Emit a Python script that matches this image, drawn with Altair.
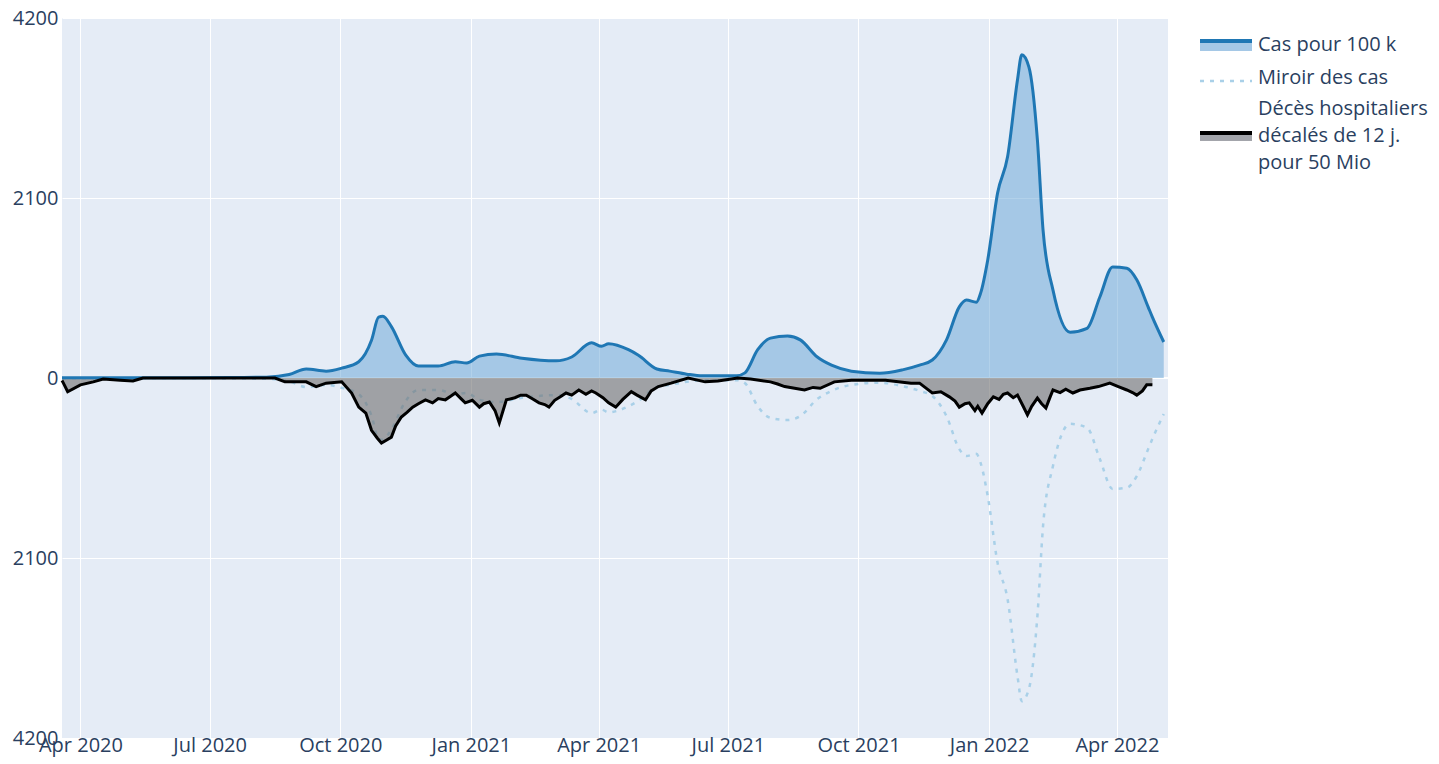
import altair as alt
import pandas as pd

# ---------------- data ----------------
case_dates = [
    "2020-03-19", "2020-05-01", "2020-07-15", "2020-08-10", "2020-08-26", "2020-09-07",
    "2020-09-21", "2020-10-02", "2020-10-14", "2020-10-23", "2020-10-28", "2020-10-31",
    "2020-11-06", "2020-11-16", "2020-11-25", "2020-12-09", "2020-12-21", "2020-12-29",
    "2021-01-07", "2021-01-19", "2021-02-06", "2021-03-02", "2021-03-13", "2021-03-27",
    "2021-04-03", "2021-04-08", "2021-04-22", "2021-04-29", "2021-05-12", "2021-05-21",
    "2021-06-02", "2021-06-13", "2021-07-07", "2021-07-13", "2021-07-22", "2021-07-31",
    "2021-08-12", "2021-08-21", "2021-09-02", "2021-09-12", "2021-09-26", "2021-10-16",
    "2021-11-01", "2021-11-13", "2021-11-22", "2021-12-02", "2021-12-11", "2021-12-16",
    "2021-12-23", "2021-12-26", "2021-12-31", "2022-01-07", "2022-01-14", "2022-01-21",
    "2022-01-24", "2022-01-29", "2022-02-04", "2022-02-08", "2022-02-15", "2022-02-27",
    "2022-03-11", "2022-03-20", "2022-03-29", "2022-04-08", "2022-04-15", "2022-04-23",
    "2022-04-26", "2022-05-04",
]
case_values = [
    2, 2, 5, 10, 40, 105,
    80, 115, 190, 440, 710, 720,
    600, 270, 140, 140, 190, 175,
    255, 280, 230, 200, 245, 410,
    370, 400, 330, 265, 105, 80,
    45, 25, 25, 60, 330, 465,
    490, 445, 245, 150, 80, 55,
    95, 150, 210, 445, 830, 910,
    885, 990, 1375, 2160, 2580, 3480,
    3770, 3630, 2780, 1725, 1025, 535,
    580, 945, 1295, 1280, 1145, 830,
    710, 420,
]

death_dates = [
    "2020-03-19", "2020-03-20", "2020-03-23", "2020-04-01", "2020-04-10", "2020-04-17",
    "2020-04-29", "2020-05-08", "2020-05-15", "2020-08-16", "2020-08-23", "2020-09-07",
    "2020-09-14", "2020-09-21", "2020-10-02", "2020-10-09", "2020-10-14", "2020-10-19",
    "2020-10-23", "2020-10-27", "2020-10-30", "2020-11-03", "2020-11-06", "2020-11-09",
    "2020-11-13", "2020-11-17", "2020-11-21", "2020-11-25", "2020-11-30", "2020-12-05",
    "2020-12-09", "2020-12-14", "2020-12-18", "2020-12-21", "2020-12-25", "2020-12-28",
    "2021-01-02", "2021-01-07", "2021-01-10", "2021-01-14", "2021-01-18", "2021-01-21",
    "2021-01-26", "2021-02-01", "2021-02-05", "2021-02-09", "2021-02-13", "2021-02-18",
    "2021-02-22", "2021-02-25", "2021-03-01", "2021-03-05", "2021-03-09", "2021-03-13",
    "2021-03-18", "2021-03-23", "2021-03-27", "2021-03-30", "2021-04-04", "2021-04-08",
    "2021-04-13", "2021-04-18", "2021-04-24", "2021-04-28", "2021-05-04", "2021-05-08",
    "2021-05-13", "2021-05-22", "2021-06-03", "2021-06-15", "2021-06-24", "2021-07-08",
    "2021-07-17", "2021-07-31", "2021-08-05", "2021-08-10", "2021-08-17", "2021-08-24",
    "2021-08-30", "2021-09-04", "2021-09-14", "2021-09-26", "2021-10-20", "2021-11-07",
    "2021-11-13", "2021-11-22", "2021-11-28", "2021-12-04", "2021-12-08", "2021-12-11",
    "2021-12-15", "2021-12-18", "2021-12-22", "2021-12-24", "2021-12-27", "2021-12-31",
    "2022-01-04", "2022-01-08", "2022-01-11", "2022-01-14", "2022-01-18", "2022-01-21",
    "2022-01-25", "2022-01-28", "2022-01-31", "2022-02-04", "2022-02-07", "2022-02-10",
    "2022-02-13", "2022-02-15", "2022-02-20", "2022-02-24", "2022-03-01", "2022-03-06",
    "2022-03-13", "2022-03-19", "2022-03-27", "2022-04-02", "2022-04-08", "2022-04-12",
    "2022-04-15", "2022-04-19", "2022-04-22", "2022-04-26",
]
death_values = [
    -30, -60, -160, -80, -45, -12,
    -25, -35, 0, 0, -45, -45,
    -100, -60, -45, -175, -340, -410,
    -610, -700, -760, -720, -690, -560,
    -455, -400, -340, -300, -255, -290,
    -240, -255, -210, -175, -240, -290,
    -260, -340, -300, -280, -380, -525,
    -255, -230, -200, -200, -240, -290,
    -310, -340, -260, -220, -175, -200,
    -140, -190, -150, -175, -230, -290,
    -340, -250, -160, -200, -255, -150,
    -100, -60, 0, -45, -35, 0,
    -12, -45, -70, -100, -120, -140,
    -110, -120, -45, -25, -25, -60,
    -60, -175, -160, -220, -270, -340,
    -300, -290, -380, -330, -410, -300,
    -220, -250, -190, -175, -230, -200,
    -330, -430, -330, -235, -300, -350,
    -220, -140, -170, -130, -175, -140,
    -120, -100, -60, -100, -140, -170,
    -200, -150, -80, -80,
]

x_tick_dates = ["2020-04-01", "2020-07-01", "2020-10-01", "2021-01-01", "2021-04-01",
                "2021-07-01", "2021-10-01", "2022-01-01", "2022-04-01"]
x_domain_dates = ["2020-03-19", "2022-05-07"]
y_ticks = [-4200, -2100, 0, 2100, 4200]
legend_labels = ["Cas pour 100 k", "Miroir des cas",
                 "Décès hospitaliers\ndécalés de 12 j.\npour 50 Mio"]

# ---------------- styling ----------------
BLUE = "#1f77b4"
BLUE_FILL = "#65a4d6"
MIRROR = "#a9d0e8"
GREY_FILL = "#707070"
TEXT = "#2a3f5f"
FONT = "Open Sans"


def ms(d):
    return int(pd.Timestamp(d, tz="UTC").value // 10**6)


cases = pd.DataFrame({"date": case_dates, "value": case_values})
cases["mirror"] = [-v for v in case_values]
deaths = pd.DataFrame({"date": death_dates, "value": death_values})

x_enc = alt.X(
    "date:T",
    scale=alt.Scale(type="utc", domain=[ms(d) for d in x_domain_dates]),
    axis=alt.Axis(
        values=[ms(d) for d in x_tick_dates],
        labelExpr="utcFormat(datum.value, '%b %Y')",
        title=None,
        labelPadding=-3,
    ),
)
y_scale = alt.Scale(domain=[-4200, 4200], nice=False, zero=False)
y_axis = alt.Axis(values=y_ticks, labelExpr="format(abs(datum.value), 'd')",
                  title=None, labelPadding=4)

zero_line = alt.Chart(pd.DataFrame({"z": [0]})).mark_rule(
    color="white", strokeWidth=2
).encode(y=alt.datum(0, scale=y_scale))

mirror_line = alt.Chart(cases).mark_line(
    color=MIRROR, strokeWidth=2.5, strokeDash=[4, 6], interpolate="monotone"
).encode(x=x_enc, y=alt.Y("mirror:Q", scale=y_scale, axis=y_axis))

cases_area = alt.Chart(cases).mark_area(
    color=BLUE_FILL, opacity=0.5, interpolate="monotone"
).encode(x="date:T", y=alt.Y("value:Q", stack=None))
deaths_area = alt.Chart(deaths).mark_area(color=GREY_FILL, opacity=0.6).encode(
    x="date:T", y=alt.Y("value:Q", stack=None)
)
cases_line = alt.Chart(cases).mark_line(
    color=BLUE, strokeWidth=3, interpolate="monotone"
).encode(x="date:T", y="value:Q")
deaths_line = alt.Chart(deaths).mark_line(color="black", strokeWidth=3).encode(
    x="date:T", y="value:Q"
)

# ---------------- legend (drawn by hand, outside the plot area) ----------------
LX0, LX1, TX = 1138, 1190, 1196
one = pd.DataFrame({"k": [0]})


def label(text, y):
    return alt.Chart(pd.DataFrame({"label": [text]})).mark_text(
        align="left", baseline="middle", font=FONT, fontSize=20, color=TEXT,
        lineBreak="\n", lineHeight=27,
    ).encode(x=alt.value(TX), y=alt.value(y), text="label:N")


leg = [
    alt.Chart(one).mark_rect(color="#a5c8e6").encode(
        x=alt.value(LX0), x2=alt.value(LX1), y=alt.value(24), y2=alt.value(33)),
    alt.Chart(one).mark_rule(color=BLUE, strokeWidth=4).encode(
        x=alt.value(LX0), x2=alt.value(LX1), y=alt.value(23)),
    label(legend_labels[0], 27),
    alt.Chart(one).mark_rule(color=MIRROR, strokeWidth=2.5, strokeDash=[4, 6]).encode(
        x=alt.value(LX0), x2=alt.value(LX1), y=alt.value(63)),
    label(legend_labels[1], 60),
    alt.Chart(one).mark_rect(color="#a3a5ab").encode(
        x=alt.value(LX0), x2=alt.value(LX1), y=alt.value(116), y2=alt.value(123)),
    alt.Chart(one).mark_rule(color="black", strokeWidth=4).encode(
        x=alt.value(LX0), x2=alt.value(LX1), y=alt.value(115)),
    label(legend_labels[2], 91),
]

chart = alt.layer(
    zero_line, mirror_line, cases_area, deaths_area, cases_line, deaths_line, *leg
).properties(
    width=1106, height=720,
    background="white",
    autosize=alt.AutoSizeParams(type="none"),
    padding={"left": 54, "top": 10, "right": 262, "bottom": 26},
).configure_view(
    fill="#e5ecf6", stroke=None
).configure_axis(
    grid=True, gridColor="white", gridWidth=1, domain=False, ticks=False,
    labelFont=FONT, labelFontSize=20, labelColor=TEXT,
)

chart.save("out.html", embed_options={"renderer": "svg", "actions": False})
